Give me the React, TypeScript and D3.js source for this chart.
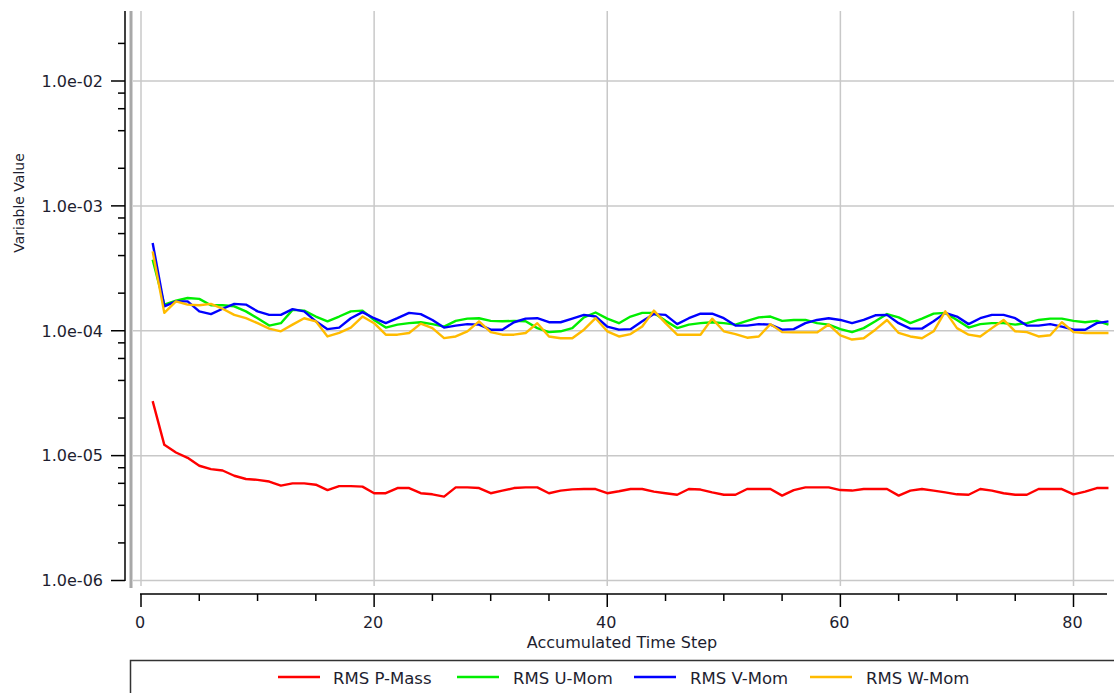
import React from "react";
import * as d3 from "d3";

const steps: number[] = Array.from({ length: 83 }, (_, i) => i + 1);

const pMass: number[] = [
  2.73e-5, 1.22e-5, 1.06e-5, 0.96e-5, 0.83e-5, 0.78e-5, 0.76e-5, 0.69e-5, 0.65e-5, 0.64e-5,
  0.62e-5, 0.575e-5, 0.6e-5, 0.6e-5, 0.585e-5, 0.53e-5, 0.57e-5, 0.57e-5, 0.565e-5, 0.5e-5,
  0.5e-5, 0.55e-5, 0.55e-5, 0.5e-5, 0.49e-5, 0.47e-5, 0.557e-5, 0.557e-5, 0.55e-5, 0.5e-5,
  0.524e-5, 0.55e-5, 0.557e-5, 0.557e-5, 0.5e-5, 0.524e-5, 0.537e-5, 0.54e-5, 0.54e-5, 0.5e-5,
  0.518e-5, 0.54e-5, 0.54e-5, 0.515e-5, 0.5e-5, 0.486e-5, 0.54e-5, 0.535e-5, 0.508e-5, 0.486e-5,
  0.486e-5, 0.54e-5, 0.54e-5, 0.54e-5, 0.478e-5, 0.53e-5, 0.557e-5, 0.557e-5, 0.557e-5, 0.53e-5,
  0.525e-5, 0.54e-5, 0.54e-5, 0.54e-5, 0.478e-5, 0.525e-5, 0.54e-5, 0.525e-5, 0.508e-5, 0.49e-5,
  0.486e-5, 0.54e-5, 0.525e-5, 0.5e-5, 0.486e-5, 0.486e-5, 0.54e-5, 0.54e-5, 0.54e-5, 0.49e-5,
  0.515e-5, 0.55e-5, 0.55e-5,
];

const uMom: number[] = [
  3.71e-4, 1.62e-4, 1.74e-4, 1.83e-4, 1.8e-4, 1.6e-4, 1.6e-4, 1.57e-4, 1.43e-4, 1.26e-4,
  1.1e-4, 1.15e-4, 1.47e-4, 1.45e-4, 1.3e-4, 1.19e-4, 1.3e-4, 1.43e-4, 1.45e-4, 1.22e-4,
  1.06e-4, 1.12e-4, 1.15e-4, 1.17e-4, 1.13e-4, 1.08e-4, 1.2e-4, 1.25e-4, 1.26e-4, 1.2e-4,
  1.19e-4, 1.2e-4, 1.19e-4, 1.05e-4, 0.975e-4, 0.99e-4, 1.05e-4, 1.28e-4, 1.4e-4, 1.25e-4,
  1.15e-4, 1.3e-4, 1.39e-4, 1.39e-4, 1.2e-4, 1.05e-4, 1.12e-4, 1.15e-4, 1.17e-4, 1.15e-4,
  1.12e-4, 1.2e-4, 1.28e-4, 1.3e-4, 1.2e-4, 1.22e-4, 1.22e-4, 1.15e-4, 1.12e-4, 1.03e-4,
  0.975e-4, 1.05e-4, 1.19e-4, 1.36e-4, 1.28e-4, 1.15e-4, 1.25e-4, 1.37e-4, 1.39e-4, 1.22e-4,
  1.06e-4, 1.13e-4, 1.15e-4, 1.15e-4, 1.12e-4, 1.15e-4, 1.22e-4, 1.25e-4, 1.25e-4, 1.2e-4,
  1.17e-4, 1.2e-4, 1.12e-4,
];

const vMom: number[] = [
  5.05e-4, 1.57e-4, 1.72e-4, 1.72e-4, 1.43e-4, 1.36e-4, 1.5e-4, 1.64e-4, 1.62e-4, 1.43e-4,
  1.34e-4, 1.34e-4, 1.49e-4, 1.43e-4, 1.19e-4, 1.03e-4, 1.06e-4, 1.26e-4, 1.41e-4, 1.26e-4,
  1.15e-4, 1.26e-4, 1.39e-4, 1.36e-4, 1.22e-4, 1.06e-4, 1.1e-4, 1.13e-4, 1.12e-4, 1.02e-4,
  1.02e-4, 1.17e-4, 1.25e-4, 1.26e-4, 1.17e-4, 1.17e-4, 1.25e-4, 1.34e-4, 1.3e-4, 1.08e-4,
  1.02e-4, 1.03e-4, 1.19e-4, 1.36e-4, 1.34e-4, 1.13e-4, 1.26e-4, 1.37e-4, 1.37e-4, 1.26e-4,
  1.1e-4, 1.1e-4, 1.13e-4, 1.12e-4, 1.02e-4, 1.03e-4, 1.15e-4, 1.22e-4, 1.26e-4, 1.22e-4,
  1.15e-4, 1.22e-4, 1.33e-4, 1.34e-4, 1.15e-4, 1.04e-4, 1.04e-4, 1.19e-4, 1.39e-4, 1.3e-4,
  1.13e-4, 1.26e-4, 1.34e-4, 1.34e-4, 1.26e-4, 1.1e-4, 1.1e-4, 1.13e-4, 1.08e-4, 1.02e-4,
  1.02e-4, 1.15e-4, 1.19e-4,
];

const wMom: number[] = [
  4.32e-4, 1.39e-4, 1.72e-4, 1.62e-4, 1.6e-4, 1.64e-4, 1.5e-4, 1.34e-4, 1.26e-4, 1.15e-4,
  1.04e-4, 0.99e-4, 1.12e-4, 1.26e-4, 1.19e-4, 0.9e-4, 0.96e-4, 1.06e-4, 1.3e-4, 1.15e-4,
  0.93e-4, 0.93e-4, 0.96e-4, 1.14e-4, 1.05e-4, 0.873e-4, 0.9e-4, 0.99e-4, 1.19e-4, 0.975e-4,
  0.93e-4, 0.93e-4, 0.96e-4, 1.15e-4, 0.9e-4, 0.87e-4, 0.87e-4, 1.02e-4, 1.26e-4, 0.99e-4,
  0.9e-4, 0.94e-4, 1.08e-4, 1.45e-4, 1.15e-4, 0.93e-4, 0.93e-4, 0.93e-4, 1.25e-4, 0.99e-4,
  0.94e-4, 0.88e-4, 0.9e-4, 1.13e-4, 0.975e-4, 0.97e-4, 0.97e-4, 0.97e-4, 1.12e-4, 0.92e-4,
  0.85e-4, 0.87e-4, 1.02e-4, 1.22e-4, 0.96e-4, 0.9e-4, 0.87e-4, 0.99e-4, 1.43e-4, 1.05e-4,
  0.93e-4, 0.9e-4, 1.05e-4, 1.22e-4, 0.99e-4, 0.975e-4, 0.9e-4, 0.92e-4, 1.17e-4, 0.975e-4,
  0.96e-4, 0.96e-4, 0.96e-4,
];

const seriesNames: string[] = ["RMS P-Mass", "RMS U-Mom", "RMS V-Mom", "RMS W-Mom"];
const seriesColors: string[] = ["#ff0000", "#00ee00", "#0000ff", "#ffbb00"];
const seriesValues: number[][] = [pMass, uMom, vMom, wMom];

const xMajorTicks: number[] = [0, 20, 40, 60, 80];
const xMinorTicks: number[] = [5, 10, 15, 25, 30, 35, 45, 50, 55, 65, 70, 75];
const yMajorTicks: number[] = [1e-6, 1e-5, 1e-4, 1e-3, 1e-2];
const yTickLabels: string[] = ["1.0e-06", "1.0e-05", "1.0e-04", "1.0e-03", "1.0e-02"];
const yMinorMultipliers: number[] = [2, 4, 6, 8];

const FONT = "'DejaVu Sans', Verdana, sans-serif";
const TEXT = "#1e1e30";

export default function App() {
  const W = 1114;
  const H = 693;
  const plotTop = 11;
  const plotBottom = 586;
  const x = d3.scaleLinear().domain([0, 80]).range([141, 1073.5]);
  const y = d3.scaleLog().domain([1e-6, 1e-2]).range([580.5, 81]);
  const topVal = y.invert(plotTop);

  const yMinor: number[] = [];
  yMajorTicks.forEach((d) => {
    yMinorMultipliers.forEach((m) => {
      const v = d * m;
      if (v <= topVal) yMinor.push(v);
    });
  });

  const line = d3
    .line<number>()
    .x((_, i) => x(steps[i]))
    .y((d) => y(d));

  const axisX = 125;
  const xAxisY = 594;

  const legendItems = [
    { lx: 278, tx: 333 },
    { lx: 457, tx: 513 },
    { lx: 634, tx: 690 },
    { lx: 810, tx: 866 },
  ];

  return (
    <svg width={W} height={H} style={{ display: "block", position: "absolute", left: 0, top: 0 }}>
      <rect x={0} y={0} width={W} height={H} fill="#ffffff" />
      {/* gridlines */}
      {yMajorTicks.map((t) => (
        <line key={"hg" + t} x1={133} x2={W} y1={y(t)} y2={y(t)} stroke="#c8c8c8" strokeWidth={1.5} />
      ))}
      {xMajorTicks.map((t) => (
        <line key={"vg" + t} x1={x(t)} x2={x(t)} y1={plotTop} y2={plotBottom} stroke="#c8c8c8" strokeWidth={1.5} />
      ))}
      {/* plot left border */}
      <line x1={131} x2={131} y1={plotTop} y2={588} stroke="#a8a8a8" strokeWidth={3} />

      {/* y axis */}
      <line x1={axisX} x2={axisX} y1={plotTop} y2={581} stroke="#000" strokeWidth={1.5} />
      {yMajorTicks.map((t, i) => (
        <g key={"yt" + t}>
          <line x1={111} x2={axisX} y1={y(t)} y2={y(t)} stroke="#000" strokeWidth={1.5} />
          <text x={103} y={y(t)} dy="0.36em" textAnchor="end" fontFamily={FONT} fontSize={16} fill={TEXT}>
            {yTickLabels[i]}
          </text>
        </g>
      ))}
      {yMinor.map((t) => (
        <line key={"ym" + t} x1={118} x2={axisX} y1={y(t)} y2={y(t)} stroke="#000" strokeWidth={1.5} />
      ))}
      <text
        transform="translate(24,203) rotate(-90)"
        textAnchor="middle"
        fontFamily={FONT}
        fontSize={14}
        fill={TEXT}
      >
        Variable Value
      </text>

      {/* x axis */}
      <line x1={140} x2={1107} y1={xAxisY} y2={xAxisY} stroke="#000" strokeWidth={1.5} />
      {xMajorTicks.map((t) => (
        <g key={"xt" + t}>
          <line x1={x(t)} x2={x(t)} y1={xAxisY} y2={607} stroke="#000" strokeWidth={1.5} />
          <text x={x(t) - 1} y={622} dy="0.36em" textAnchor="middle" fontFamily={FONT} fontSize={16} fill={TEXT}>
            {t}
          </text>
        </g>
      ))}
      {xMinorTicks.map((t) => (
        <line key={"xm" + t} x1={x(t)} x2={x(t)} y1={xAxisY} y2={601} stroke="#000" strokeWidth={1.5} />
      ))}
      <text x={622} y={642} dy="0.36em" textAnchor="middle" fontFamily={FONT} fontSize={16} fill={TEXT}>
        Accumulated Time Step
      </text>

      {/* series */}
      {seriesValues.map((vals, i) => (
        <path key={seriesNames[i]} d={line(vals) || ""} fill="none" stroke={seriesColors[i]} strokeWidth={2.4} strokeLinejoin="round" />
      ))}

      {/* legend */}
      <rect x={130.5} y={660.5} width={W} height={60} fill="#fff" stroke="#333" strokeWidth={1.5} />
      {legendItems.map((it, i) => (
        <g key={"lg" + i}>
          <line x1={it.lx} x2={it.lx + 42} y1={677} y2={677} stroke={seriesColors[i]} strokeWidth={2.5} />
          <text x={it.tx} y={678} dy="0.36em" fontFamily={FONT} fontSize={16.5} fill={TEXT}>
            {seriesNames[i]}
          </text>
        </g>
      ))}
    </svg>
  );
}
